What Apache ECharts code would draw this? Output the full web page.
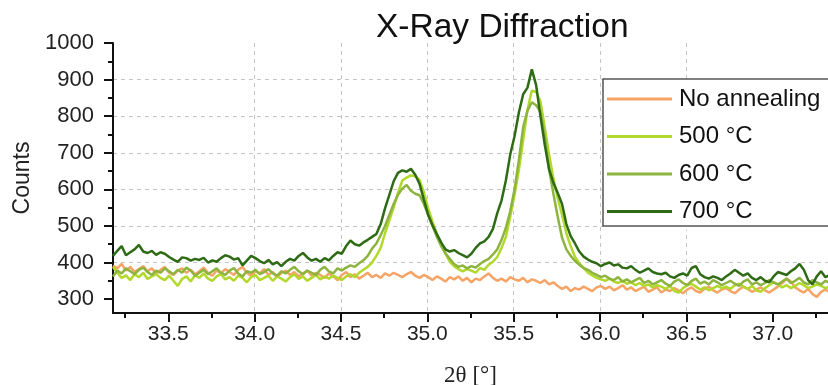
<!DOCTYPE html>
<html>
<head>
<meta charset="utf-8">
<script src="https://cdn.jsdelivr.net/npm/echarts@6/dist/echarts.min.js"></script>
<style>
  html, body { margin: 0; padding: 0; background: #ffffff; }
  #chart { width: 828px; height: 385px; }
</style>
</head>
<body>
<div id="chart"></div>
<script>
// XRD scans: counts sampled every 0.025° in 2θ, starting at 33.18°
const seriesNames = ['No annealing', '500 °C', '600 °C', '700 °C'];
const seriesColors = ['#F5A466', '#B2D82C', '#8CB43F', '#2E6B14'];
const scanStart = 33.18;
const scanStep = 0.025;

const noAnnealing = [
  392,384,396,378,388,374,382,390,376,384,
  370,380,388,372,366,378,384,372,380,368,
  376,386,372,364,378,370,382,374,366,380,
  388,372,364,376,370,382,366,374,360,372,
  378,366,374,362,370,378,364,372,366,358,
  370,362,352,366,374,360,368,356,364,372,
  360,366,358,370,364,372,366,360,368,374,
  364,358,366,360,352,362,356,348,360,354,
  362,350,358,346,356,352,362,370,358,350,
  356,348,360,354,350,358,346,354,350,344,
  352,340,346,336,328,334,322,330,326,334,
  328,322,332,336,328,334,324,330,338,326,
  332,322,328,334,320,326,332,318,326,322,
  330,324,316,326,332,322,318,328,334,324,
  318,326,330,322,316,326,334,328,320,326,
  332,324,318,326,334,344,356,348,332,324,
  318,328,314,306,320,326,318
];

const anneal500 = [
  388,372,358,365,352,368,360,372,355,362,
  368,358,352,364,350,336,355,362,348,366,
  358,370,356,350,362,368,354,360,350,364,
  358,346,360,366,352,358,364,350,362,356,
  348,360,368,355,362,350,358,366,354,362,
  356,364,358,352,362,368,360,372,380,388,
  400,418,440,480,515,550,590,624,632,638,
  636,626,592,548,512,478,450,425,402,390,
  382,376,382,378,372,385,380,394,402,415,
  440,470,525,585,653,735,818,870,866,840,
  770,695,630,575,530,480,445,415,398,385,
  372,365,358,354,350,356,348,344,350,342,
  346,338,344,336,340,332,338,334,328,336,
  322,318,330,338,342,334,326,332,324,330,
  336,330,334,328,338,342,334,328,336,324,
  320,330,338,346,340,332,338,330,336,344,
  338,330,334,340,336,330,334
];

const anneal600 = [
  362,378,370,384,376,368,380,386,374,366,
  378,372,384,376,368,380,372,386,378,364,
  372,380,368,376,384,372,366,378,385,370,
  362,376,372,380,368,374,382,370,364,376,
  370,380,388,376,368,378,372,366,380,388,
  376,370,384,378,386,392,388,398,406,418,
  438,452,475,500,530,560,585,602,612,596,
  588,584,560,530,500,470,445,425,410,396,
  388,392,384,390,386,396,404,410,422,436,
  462,495,540,600,680,770,815,838,830,812,
  745,655,588,525,468,436,418,404,394,385,
  380,372,366,360,364,356,352,360,348,354,
  346,352,358,344,350,340,346,352,342,336,
  348,354,344,338,350,356,342,348,340,352,
  346,338,344,350,342,336,348,354,340,346,
  338,344,352,346,340,348,356,344,350,358,
  346,340,352,346,340,350,344
];

const anneal700 = [
  418,432,445,420,428,436,448,430,426,432,
  421,428,424,415,408,402,414,412,405,410,
  407,413,400,406,402,412,420,416,408,412,
  392,405,418,412,404,398,407,395,401,390,
  402,410,405,418,426,414,405,410,402,412,
  406,418,428,424,445,460,450,446,455,462,
  470,478,505,548,585,622,645,652,648,656,
  640,615,572,530,502,478,455,436,430,434,
  426,420,414,424,440,452,458,470,492,535,
  570,625,695,745,810,860,878,928,885,800,
  722,655,618,590,560,505,472,452,430,416,
  408,402,398,390,396,400,392,395,386,384,
  390,380,372,378,384,374,370,368,372,362,
  358,366,370,364,385,390,368,360,356,362,
  358,352,362,370,380,372,364,370,358,352,
  360,350,346,362,374,370,366,376,384,396,
  380,352,340,362,376,360,366
];

// Axis ticks
const xMajorTicks = [33.5, 34.0, 34.5, 35.0, 35.5, 36.0, 36.5, 37.0];
const xMinorTicks = [33.25, 33.75, 34.25, 34.75, 35.25, 35.75, 36.25, 36.75, 37.25];
const yMajorTicks = [300, 400, 500, 600, 700, 800, 900, 1000];
const yMinorTicks = [350, 450, 550, 650, 750, 850, 950];

const twoTheta = noAnnealing.map((_, i) => +(scanStart + i * scanStep).toFixed(3));
const allCounts = [noAnnealing, anneal500, anneal600, anneal700];

const FONT = 'Liberation Sans, Arial, sans-serif';
const dashed = { color: '#c4c4c4', width: 1, type: [4, 4] };

const chart = echarts.init(document.getElementById('chart'), null, { renderer: 'canvas' });

chart.setOption({
  animation: false,
  backgroundColor: '#ffffff',
  title: {
    text: 'X-Ray Diffraction',
    left: 376,
    top: 11,
    padding: 0,
    textStyle: { fontFamily: FONT, fontSize: 33.5, fontWeight: 'normal', color: '#111111' }
  },
  legend: {
    orient: 'vertical',
    left: 603,
    top: 79,
    padding: [8, 40, 6, 4],
    icon: 'rect',
    itemWidth: 65,
    itemHeight: 3,
    itemGap: 13.5,
    backgroundColor: '#ffffff',
    borderWidth: 0,
    textStyle: { fontFamily: FONT, fontSize: 24, color: '#111111', padding: [0, 0, 0, 2] },
    data: seriesNames
  },
  // legend frame, open on the right where the figure is trimmed
  graphic: [{
    type: 'rect',
    z: 100,
    silent: true,
    shape: { x: 603, y: 79, width: 260, height: 147 },
    style: { fill: 'none', stroke: '#555555', lineWidth: 1.5 }
  }],
  grid: { left: 113, right: 0, top: 43, bottom: 72, outerBoundsMode: 'none' },
  xAxis: [
    {
      type: 'value',
      min: 33.18,
      max: 37.32,
      position: 'bottom',
      name: '2θ [°]',
      nameLocation: 'middle',
      nameGap: 51,
      nameTextStyle: { fontFamily: 'Liberation Serif, Times New Roman, serif', fontSize: 23, color: '#222222' },
      axisLine: { onZero: false, lineStyle: { color: '#111111', width: 2 } },
      axisTick: { customValues: xMajorTicks, inside: false, length: 9, lineStyle: { color: '#111111', width: 2 } },
      axisLabel: {
        customValues: xMajorTicks,
        margin: 11,
        fontFamily: FONT, fontSize: 21, color: '#222222',
        formatter: v => v.toFixed(1)
      },
      splitLine: { show: true, showMinLine: false, showMaxLine: false, lineStyle: dashed }
    },
    {
      type: 'value',
      min: 33.18,
      max: 37.32,
      position: 'bottom',
      axisLine: { show: false, onZero: false },
      axisTick: { customValues: xMinorTicks, inside: false, length: 5, lineStyle: { color: '#111111', width: 2 } },
      axisLabel: { show: false },
      splitLine: { show: false }
    }
  ],
  yAxis: [
    {
      type: 'value',
      min: 262,
      max: 1000,
      position: 'left',
      name: 'Counts',
      nameLocation: 'middle',
      nameGap: 77,
      nameTextStyle: { fontFamily: FONT, fontSize: 23, color: '#222222' },
      axisLine: { show: true, onZero: false, lineStyle: { color: '#111111', width: 2 } },
      axisTick: { show: true, customValues: yMajorTicks, inside: false, length: 9, lineStyle: { color: '#111111', width: 2 } },
      axisLabel: {
        customValues: yMajorTicks,
        margin: 19,
        fontFamily: FONT, fontSize: 22, color: '#222222',
        formatter: v => String(v)
      },
      splitLine: { show: true, showMinLine: false, showMaxLine: false, lineStyle: dashed }
    },
    {
      type: 'value',
      min: 262,
      max: 1000,
      position: 'left',
      axisLine: { show: false, onZero: false },
      axisTick: { show: true, customValues: yMinorTicks, inside: false, length: 5, lineStyle: { color: '#111111', width: 2 } },
      axisLabel: { show: false },
      splitLine: { show: false }
    }
  ],
  series: seriesNames.map((name, k) => ({
    name,
    type: 'line',
    xAxisIndex: 0,
    yAxisIndex: 0,
    showSymbol: false,
    symbol: 'none',
    clip: true,
    lineStyle: { color: seriesColors[k], width: 2.5 },
    itemStyle: { color: seriesColors[k] },
    data: twoTheta.map((t, i) => [t, allCounts[k][i]])
  }))
});
</script>
</body>
</html>
